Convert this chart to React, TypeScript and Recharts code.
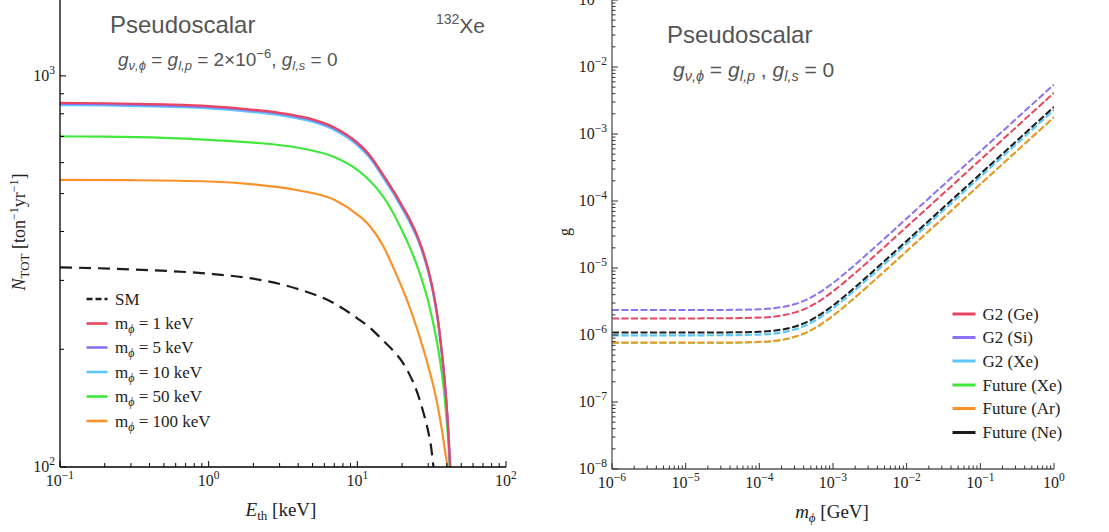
import React from "react";
import { LineChart, Line, XAxis, YAxis } from "recharts";

const serif = "'Liberation Serif', 'Times New Roman', serif";
const sans = "'Liberation Sans', Arial, sans-serif";

// ---- left panel: N_TOT vs E_th ----
const eSM = [0.1, 0.3, 1, 2, 4, 7, 10, 12, 15, 17.5, 20, 22.5, 25, 27.5, 30, 31.5, 32.5];
const nSM = [324, 320, 312, 303, 285, 262, 240, 228, 210, 198, 186, 172, 157, 140, 123, 111, 100];

const eTop = [0.1, 0.2, 0.5, 1, 2, 3, 4, 5, 7, 10, 12, 15, 17.5, 20, 22.5, 25, 27.5, 30, 32.5, 35, 37, 38.5, 40, 41];
const nM1 = [853, 851, 845, 837, 819, 804, 789, 774, 738, 675, 630, 557, 508, 466, 430, 395, 358, 320, 280, 236, 197, 170, 142, 122];
const nM5 = [849, 847, 841, 833, 815, 800, 785, 770, 734, 671, 626, 554, 505, 463, 427, 392, 356, 318, 278, 235, 196, 169, 141, 122];
const nM10 = [842, 840, 834, 826, 808, 793, 778, 763, 727, 665, 620, 548, 500, 458, 422, 388, 352, 315, 275, 232, 194, 167, 140, 121];
const eEndM1 = 42.2;
const eEndM5 = 42.1;
const eEndM10 = 42;

const eM50 = [0.1, 0.2, 0.5, 1, 2, 4, 7, 10, 12, 15, 17.5, 20, 22.5, 25, 27.5, 30, 32.5, 35, 37, 38.5, 40, 41, 41.8];
const nM50 = [700, 699, 694, 686, 675, 655, 620, 575, 542, 490, 445, 402, 365, 330, 297, 265, 232, 200, 174, 153, 130, 115, 100];

const eM100 = [0.1, 0.3, 1, 2, 4, 7, 10, 12, 15, 17.5, 20, 22.5, 25, 27.5, 30, 32.5, 35, 37, 38.5, 39.5, 40.4];
const nM100 = [542, 541, 537, 528, 510, 482, 442, 415, 366, 323, 287, 256, 228, 203, 181, 161, 141, 125, 113, 106, 100];

// ---- right panel: g vs m_phi ----
const mPhi = [1e-6, 1e-5, 3e-5, 1e-4, 2e-4, 3e-4, 4e-4, 5e-4, 7e-4, 1e-3, 1.5e-3, 2e-3, 3e-3, 5e-3, 1e-2, 2e-2, 5e-2, 1e-1, 2e-1, 5e-1, 1];
const gG2Ge = [1.77e-6, 1.77e-6, 1.774e-6, 1.817e-6, 1.952e-6, 2.159e-6, 2.417e-6, 2.715e-6, 3.382e-6, 4.481e-6, 6.423e-6, 8.42e-6, 1.248e-5, 2.066e-5, 4.121e-5, 8.232e-5, 2.059e-4, 4.117e-4, 8.232e-4, 2.058e-3, 4.116e-3];
const gG2Si = [2.36e-6, 2.36e-6, 2.366e-6, 2.423e-6, 2.603e-6, 2.878e-6, 3.223e-6, 3.62e-6, 4.509e-6, 5.975e-6, 8.564e-6, 1.123e-5, 1.663e-5, 2.754e-5, 5.494e-5, 1.098e-4, 2.745e-4, 5.489e-4, 1.098e-3, 2.744e-3, 5.488e-3];
const gG2Xe = [9.9e-7, 9.9e-7, 9.92e-7, 1.016e-6, 1.092e-6, 1.207e-6, 1.352e-6, 1.518e-6, 1.891e-6, 2.506e-6, 3.592e-6, 4.71e-6, 6.978e-6, 1.155e-5, 2.305e-5, 4.605e-5, 1.151e-4, 2.303e-4, 4.605e-4, 1.151e-3, 2.302e-3];
const gFutXe = [7.58e-7, 7.58e-7, 7.6e-7, 7.79e-7, 8.36e-7, 9.25e-7, 1.036e-6, 1.163e-6, 1.449e-6, 1.92e-6, 2.752e-6, 3.608e-6, 5.346e-6, 8.851e-6, 1.766e-5, 3.528e-5, 8.821e-5, 1.764e-4, 3.527e-4, 8.82e-4, 1.764e-3];
const gFutAr = [7.7e-7, 7.7e-7, 7.72e-7, 7.91e-7, 8.49e-7, 9.39e-7, 1.052e-6, 1.181e-6, 1.471e-6, 1.949e-6, 2.794e-6, 3.663e-6, 5.427e-6, 8.986e-6, 1.793e-5, 3.582e-5, 8.955e-5, 1.791e-4, 3.581e-4, 8.954e-4, 1.791e-3];
const gFutNe = [1.09e-6, 1.09e-6, 1.093e-6, 1.119e-6, 1.202e-6, 1.329e-6, 1.489e-6, 1.672e-6, 2.082e-6, 2.76e-6, 3.955e-6, 5.185e-6, 7.68e-6, 1.272e-5, 2.538e-5, 5.07e-5, 1.268e-4, 2.535e-4, 5.07e-4, 1.268e-3, 2.535e-3];

const leftXMajors = [0.1, 1, 10, 100];
const leftYMajors = [100, 1000];
const rightXMajors = [1e-6, 1e-5, 1e-4, 1e-3, 1e-2, 1e-1, 1];
const rightYMajors = [1e-8, 1e-7, 1e-6, 1e-5, 1e-4, 1e-3, 1e-2, 1e-1];

const RED = "#e8455f";
const PURPLE = "#8c70f5";
const CYAN = "#5cc8fa";
const GREEN = "#3fe83a";
const ORANGE = "#f8922a";
const BLACK = "#1c1c1c";

const pts = (xs: number[], ys: number[]) => xs.map((x, i) => ({ x, y: ys[i] }));

const leftSeries = [
  { key: "sm", data: pts(eSM, nSM), color: BLACK, dash: "12 7", label: "SM" },
  { key: "m1", data: [...pts(eTop, nM1), { x: eEndM1, y: 100 }], color: RED, label: "1 keV" },
  { key: "m5", data: [...pts(eTop, nM5), { x: eEndM5, y: 100 }], color: PURPLE, label: "5 keV" },
  { key: "m10", data: [...pts(eTop, nM10), { x: eEndM10, y: 100 }], color: CYAN, label: "10 keV" },
  { key: "m50", data: pts(eM50, nM50), color: GREEN, label: "50 keV" },
  { key: "m100", data: pts(eM100, nM100), color: ORANGE, label: "100 keV" },
];

const rightRows = mPhi.map((m, i) => ({
  m,
  ge: gG2Ge[i],
  si: gG2Si[i],
  xe: gG2Xe[i],
  fxe: gFutXe[i],
  far: gFutAr[i],
  fne: gFutNe[i],
}));

// draw order: black over cyan, orange over green
const rightLines = [
  { key: "fxe", color: GREEN, w: 1.6 },
  { key: "far", color: ORANGE, w: 2 },
  { key: "xe", color: CYAN, w: 2.2 },
  { key: "fne", color: BLACK, w: 2 },
  { key: "ge", color: RED, w: 2 },
  { key: "si", color: PURPLE, w: 2 },
];
const rightLegend = [
  { label: "G2 (Ge)", color: RED },
  { label: "G2 (Si)", color: PURPLE },
  { label: "G2 (Xe)", color: CYAN },
  { label: "Future (Xe)", color: GREEN },
  { label: "Future (Ar)", color: ORANGE },
  { label: "Future (Ne)", color: BLACK },
];

function withMinors(majors: number[], max: number) {
  const out: number[] = [];
  majors.forEach((d) => {
    for (let k = 1; k <= 9; k++) {
      const v = k * d;
      if (v <= max * 1.0001) out.push(v);
    }
  });
  return out;
}

const isMajor = (v: number) => {
  const l = Math.log10(v);
  return Math.abs(l - Math.round(l)) < 1e-6;
};

function Pow({ x, y, exp, anchor, fs }: any) {
  const e = exp < 0 ? "\u2212" + -exp : String(exp);
  return (
    <text x={x} y={y} textAnchor={anchor} fontFamily={serif} fontSize={fs} fill="#222">
      10
      <tspan dy={-fs * 0.42} fontSize={fs * 0.72}>
        {e}
      </tspan>
    </text>
  );
}

function makeTick(side: string, color: string, label: boolean, majLen: number, minLen: number) {
  return (p: any) => {
    const { x, y, payload } = p;
    const v = payload.value;
    const maj = isMajor(v);
    const len = maj ? majLen : minLen;
    let x2 = x;
    let y2 = y;
    if (side === "b") y2 = y - len;
    if (side === "t") y2 = y + len;
    if (side === "l") x2 = x + len;
    if (side === "r") x2 = x - len;
    const exp = Math.round(Math.log10(v));
    return (
      <g>
        <line x1={x} y1={y} x2={x2} y2={y2} stroke={color} strokeWidth={1} />
        {label && maj && side === "b" && <Pow x={x} y={y + 19} exp={exp} anchor="middle" fs={16} />}
        {label && maj && side === "l" && <Pow x={x - 5} y={y + 5} exp={exp} anchor="end" fs={16} />}
      </g>
    );
  };
}

const LEFT_YMAX = 1563;

function LeftChart() {
  const xt = withMinors(leftXMajors, 100);
  const yt = withMinors(leftYMajors, LEFT_YMAX);
  const common = { type: "number" as const, scale: "log" as const, allowDataOverflow: true, interval: 0 as const, tickSize: 0, tickMargin: 0, tickLine: false };
  return (
    <LineChart width={520} height={532} margin={{ top: 0, right: 14, bottom: 0, left: 0 }}>
      <XAxis xAxisId="b" dataKey="x" {...common} domain={[0.1, 100]} ticks={xt} height={65} orientation="bottom"
        axisLine={{ stroke: "#000", strokeWidth: 1.3 }} tick={makeTick("b", "#000", true, 6, 4)} />
      <XAxis xAxisId="t" dataKey="x" {...common} domain={[0.1, 100]} ticks={xt} height={0} orientation="top"
        axisLine={{ stroke: "#777", strokeWidth: 1.3 }} tick={makeTick("t", "#444", false, 6, 4)} />
      <YAxis yAxisId="l" dataKey="y" {...common} domain={[100, LEFT_YMAX]} ticks={yt} width={60} orientation="left"
        axisLine={{ stroke: "#000", strokeWidth: 1.3 }} tick={makeTick("l", "#000", true, 6, 4)} />
      <YAxis yAxisId="r" dataKey="y" {...common} domain={[100, LEFT_YMAX]} ticks={yt} width={0} orientation="right"
        axisLine={{ stroke: "#777", strokeWidth: 1.3 }} tick={makeTick("r", "#444", false, 6, 4)} />
      {[...leftSeries].reverse().map((s) => (
        <Line key={s.key} xAxisId="b" yAxisId="l" data={s.data} dataKey="y" type="monotone" stroke={s.color}
          strokeWidth={2.2} strokeDasharray={s.dash} dot={false} isAnimationActive={false} />
      ))}
    </LineChart>
  );
}

function RightChart() {
  const xt = withMinors(rightXMajors, 1);
  const yt = withMinors(rightYMajors, 0.1);
  const common = { type: "number" as const, scale: "log" as const, allowDataOverflow: true, interval: 0 as const, tickSize: 0, tickMargin: 0, tickLine: false };
  const frame = { stroke: "#555", strokeWidth: 1.3 };
  return (
    <LineChart width={530} height={532} data={rightRows} margin={{ top: 0, right: 16, bottom: 0, left: 0 }}>
      <XAxis xAxisId="b" dataKey="m" {...common} domain={[1e-6, 1]} ticks={xt} height={63} orientation="bottom"
        axisLine={frame} tick={makeTick("b", "#333", true, 6, 3.5)} />
      <XAxis xAxisId="t" dataKey="m" {...common} domain={[1e-6, 1]} ticks={xt} height={0} orientation="top"
        axisLine={frame} tick={makeTick("t", "#333", false, 6, 3.5)} />
      <YAxis yAxisId="l" {...common} domain={[1e-8, 0.1]} ticks={yt} width={72} orientation="left"
        axisLine={frame} tick={makeTick("l", "#333", true, 6, 3.5)} />
      <YAxis yAxisId="r" {...common} domain={[1e-8, 0.1]} ticks={yt} width={0} orientation="right"
        axisLine={frame} tick={makeTick("r", "#333", false, 6, 3.5)} />
      {rightLines.map((s) => (
        <Line key={s.key} xAxisId="b" yAxisId="l" dataKey={s.key} type="monotone" stroke={s.color}
          strokeWidth={s.w} strokeDasharray="7 2.5" dot={false} isAnimationActive={false} />
      ))}
    </LineChart>
  );
}

function Sub({ children }: any) {
  return (
    <tspan fontSize={13} dy={4}>
      {children}
    </tspan>
  );
}

function Overlay() {
  const leftRows = [299, 323.5, 347.5, 372, 396.5, 421];
  const rightRowsY = [314, 337.5, 361, 385, 408.5, 432.5];
  return (
    <svg width={1109} height={532} style={{ position: "absolute", left: 0, top: 0, pointerEvents: "none" }}>
      {/* titles */}
      <text x={110} y={33} fontFamily={sans} fontSize={24} fill="#555">Pseudoscalar</text>
      <text x={485} y={33} textAnchor="end" fontFamily={sans} fill="#555">
        <tspan fontSize={14} dy={-9}>132</tspan>
        <tspan fontSize={21} dy={9}>Xe</tspan>
      </text>
      <text x={118} y={66} fontFamily={sans} fontSize={19} fill="#555">
        <tspan fontStyle="italic">g</tspan>
        <tspan fontStyle="italic" fontSize={13} dy={4}>ν,ϕ</tspan>
        <tspan dy={-4}> = </tspan>
        <tspan fontStyle="italic">g</tspan>
        <tspan fontStyle="italic" fontSize={13} dy={4}>l,p</tspan>
        <tspan dy={-4}> = 2×10</tspan>
        <tspan fontSize={13} dy={-8}>−6</tspan>
        <tspan dy={8}>, </tspan>
        <tspan fontStyle="italic">g</tspan>
        <tspan fontStyle="italic" fontSize={13} dy={4}>l,s</tspan>
        <tspan dy={-4}> = 0</tspan>
      </text>
      <text x={667} y={43} fontFamily={sans} fontSize={24} fill="#555">Pseudoscalar</text>
      <text x={673} y={77} fontFamily={sans} fontSize={21} fill="#555">
        <tspan fontStyle="italic">g</tspan>
        <tspan fontStyle="italic" fontSize={14.5} dy={4}>ν,ϕ</tspan>
        <tspan dy={-4}> = </tspan>
        <tspan fontStyle="italic">g</tspan>
        <tspan fontStyle="italic" fontSize={14.5} dy={4}>l,p</tspan>
        <tspan dy={-4}> , </tspan>
        <tspan fontStyle="italic">g</tspan>
        <tspan fontStyle="italic" fontSize={14.5} dy={4}>l,s</tspan>
        <tspan dy={-4}> = 0</tspan>
      </text>

      {/* axis labels */}
      <text transform="translate(25,232) rotate(-90)" textAnchor="middle" fontFamily={serif} fontSize={18} fill="#222">
        <tspan fontStyle="italic">N</tspan>
        <Sub>TOT</Sub>
        <tspan dy={-4}> [ton</tspan>
        <tspan fontSize={12} dy={-7}>−1</tspan>
        <tspan dy={7}>yr</tspan>
        <tspan fontSize={12} dy={-7}>−1</tspan>
        <tspan dy={7}>]</tspan>
      </text>
      <text x={281} y={516} textAnchor="middle" fontFamily={serif} fontSize={19} fill="#222">
        <tspan fontStyle="italic">E</tspan>
        <Sub>th</Sub>
        <tspan dy={-4}> [keV]</tspan>
      </text>
      <text x={832} y={518} textAnchor="middle" fontFamily={serif} fontSize={19} fill="#222">
        <tspan fontStyle="italic">m</tspan>
        <tspan fontStyle="italic" fontSize={13} dy={4}>ϕ</tspan>
        <tspan dy={-4}> [GeV]</tspan>
      </text>
      <text transform="translate(570,232) rotate(-90)" textAnchor="middle" fontFamily={serif} fontSize={16} fill="#222">g</text>

      {/* left legend */}
      {leftSeries.map((s, i) => (
        <g key={s.key}>
          <line x1={86.5} x2={107.5} y1={leftRows[i]} y2={leftRows[i]} stroke={s.color} strokeWidth={2.6}
            strokeDasharray={s.dash ? "6 3" : undefined} />
          {s.key === "sm" ? (
            <text x={115} y={leftRows[i] + 5.5} fontFamily={serif} fontSize={17} fill="#222">SM</text>
          ) : (
            <text x={115} y={leftRows[i] + 5.5} fontFamily={serif} fontSize={17} fill="#222">
              m<tspan fontSize={12} fontStyle="italic" dy={4}>ϕ</tspan>
              <tspan dy={-4}> = {s.label}</tspan>
            </text>
          )}
        </g>
      ))}

      {/* right legend */}
      {rightLegend.map((s, i) => (
        <g key={s.label}>
          <line x1={952.5} x2={975.5} y1={rightRowsY[i]} y2={rightRowsY[i]} stroke={s.color} strokeWidth={3} />
          <text x={982.5} y={rightRowsY[i] + 5.5} fontFamily={serif} fontSize={17} fill="#222">{s.label}</text>
        </g>
      ))}
    </svg>
  );
}

export default function App() {
  return (
    <div style={{ position: "absolute", left: 0, top: 0, width: 1109, height: 532, background: "#fff" }}>
      <div style={{ position: "absolute", left: 0, top: 0 }}>
        <LeftChart />
      </div>
      <div style={{ position: "absolute", left: 540, top: 0 }}>
        <RightChart />
      </div>
      <Overlay />
    </div>
  );
}
